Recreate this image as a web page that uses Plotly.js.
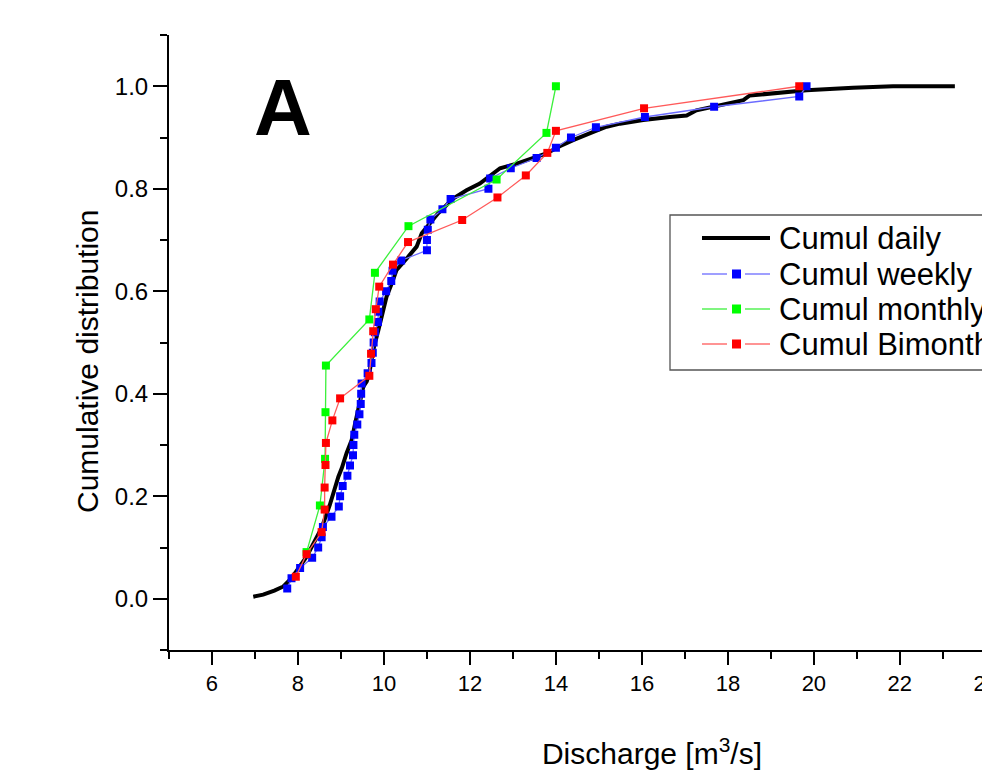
<!DOCTYPE html>
<html>
<head>
<meta charset="utf-8">
<script src="https://cdn.plot.ly/plotly-3.0.1.min.js"></script>
<style>
html, body { margin: 0; padding: 0; overflow: hidden; background: #ffffff; }
#chart { width: 1145px; height: 773px; }
</style>
</head>
<body>
<div id="chart"></div>
<script>
// ---- Data ----
var seriesNames = ["Cumul daily", "Cumul weekly", "Cumul monthly", "Cumul Bimonthly"];

// Daily cumulative distribution (discharge, probability)
var dailyX = [6.96, 7.19, 7.45, 7.66, 7.85, 8.2, 8.55, 8.74, 8.94, 9.02, 9.13, 9.25, 9.33, 9.44, 9.52, 9.6, 9.66, 9.71, 9.77,
  9.87, 9.97, 10.06, 10.18, 10.29, 10.53, 10.76, 10.88, 11.07, 11.26, 11.61, 11.92, 12.23, 12.47, 12.7, 13.09, 13.47,
  13.78, 14.09, 14.4, 14.87, 15.18, 15.49, 16.03, 16.65, 17.04, 17.27, 17.66, 18.36, 18.51, 19.13, 19.83, 20.91, 21.84, 23.28];
var dailyY = [0.004, 0.008, 0.016, 0.024, 0.04, 0.082, 0.138, 0.183, 0.238, 0.255, 0.284, 0.31, 0.342, 0.388, 0.414, 0.424, 0.44, 0.466, 0.492,
  0.524, 0.557, 0.589, 0.615, 0.641, 0.664, 0.687, 0.713, 0.732, 0.752, 0.781, 0.797, 0.81, 0.826, 0.84, 0.849, 0.859,
  0.869, 0.883, 0.895, 0.911, 0.921, 0.927, 0.934, 0.94, 0.943, 0.953, 0.96, 0.973, 0.982, 0.986, 0.992, 0.997, 1.0, 1.0];

// Weekly
var weeklyX = [7.75, 7.85, 8.05, 8.33, 8.47, 8.55, 8.58, 8.78, 8.95, 8.98, 9.04, 9.15, 9.21, 9.28, 9.29, 9.31, 9.38, 9.43, 9.46, 9.47,
  9.48, 9.62, 9.71, 9.74, 9.76, 9.79, 9.86, 9.87, 9.9, 10.05, 10.17, 10.2, 10.4, 11.0, 11.0, 11.02, 11.08, 11.36, 11.55, 12.43,
  12.47, 12.95, 13.55, 14.0, 14.35, 14.93, 16.07, 17.68, 19.66, 19.83];
var weeklyY = [0.02, 0.04, 0.06, 0.08, 0.10, 0.12, 0.14, 0.16, 0.18, 0.20, 0.22, 0.24, 0.26, 0.28, 0.30, 0.32, 0.34, 0.36, 0.38, 0.40,
  0.42, 0.44, 0.46, 0.48, 0.50, 0.52, 0.54, 0.56, 0.58, 0.60, 0.62, 0.64, 0.66, 0.68, 0.70, 0.72, 0.74, 0.76, 0.78, 0.80,
  0.82, 0.84, 0.86, 0.88, 0.90, 0.92, 0.94, 0.96, 0.98, 1.00];

// Monthly
var monthlyX = [8.2, 8.51, 8.63, 8.64, 8.65, 9.66, 9.79, 10.57, 12.62, 13.78, 14.0];
var monthlyY = [0.091, 0.182, 0.273, 0.364, 0.455, 0.545, 0.636, 0.727, 0.818, 0.909, 1.0];

// Bimonthly
var bimonthlyX = [7.95, 8.2, 8.55, 8.62, 8.62, 8.64, 8.65, 8.8, 8.98, 9.66, 9.70, 9.75, 9.81, 9.89, 10.21, 10.56, 11.82, 12.64,
  13.3, 13.8, 14.0, 16.05, 19.66];
var bimonthlyY = [0.043, 0.087, 0.130, 0.174, 0.217, 0.261, 0.304, 0.348, 0.391, 0.435, 0.478, 0.522, 0.565, 0.609, 0.652, 0.696,
  0.739, 0.783, 0.826, 0.870, 0.913, 0.957, 1.0];

var yTickVals = [0, 0.2, 0.4, 0.6, 0.8, 1.0];
var yTickText = ["0.0", "0.2", "0.4", "0.6", "0.8", "1.0"];

// ---- Styles ----
var FONT = "Liberation Sans, Arial, sans-serif";
var markerColors = ["#000000", "#0000ff", "#00ff00", "#ff0000"];
var lineColors = ["#000000", "#6b6bff", "#3cf03c", "#ff5a5a"];

var traces = [
  { x: dailyX, y: dailyY, name: seriesNames[0], type: "scatter", mode: "lines",
    line: { color: lineColors[0], width: 4 } },
  { x: weeklyX, y: weeklyY, name: seriesNames[1], type: "scatter", mode: "lines+markers",
    line: { color: lineColors[1], width: 1.3 },
    marker: { symbol: "square", size: 8, color: markerColors[1], line: { width: 0 } } },
  { x: monthlyX, y: monthlyY, name: seriesNames[2], type: "scatter", mode: "lines+markers",
    line: { color: lineColors[2], width: 1.3 },
    marker: { symbol: "square", size: 8, color: markerColors[2], line: { width: 0 } } },
  { x: bimonthlyX, y: bimonthlyY, name: seriesNames[3], type: "scatter", mode: "lines+markers",
    line: { color: lineColors[3], width: 1.3 },
    marker: { symbol: "square", size: 8, color: markerColors[3], line: { width: 0 } } }
];

// ---- Plot-area geometry (pixels) used to place the boxed legend ----
var W = 1145, H = 773, ML = 169, MR = 10, MT = 35, MB = 123;
var PW = W - ML - MR, PH = H - MT - MB;
function px(x) { return (x - ML) / PW; }
function py(y) { return (H - MB - y) / PH; }

var shapes = [];
var annotations = [];

// legend frame
shapes.push({ type: "rect", xref: "paper", yref: "paper", layer: "above",
  x0: px(670), x1: px(1040), y0: py(370), y1: py(215),
  fillcolor: "#ffffff", line: { color: "#555555", width: 1.3 } });

var rowY = [238, 274, 309, 344];
for (var i = 0; i < seriesNames.length; i++) {
  var yy = py(rowY[i]);
  if (i === 0) {
    shapes.push({ type: "line", xref: "paper", yref: "paper", layer: "above",
      x0: px(702), x1: px(770), y0: yy, y1: yy, line: { color: lineColors[0], width: 4 } });
  } else {
    shapes.push({ type: "line", xref: "paper", yref: "paper", layer: "above",
      x0: px(702), x1: px(727), y0: yy, y1: yy, line: { color: lineColors[i], width: 1.3 } });
    shapes.push({ type: "line", xref: "paper", yref: "paper", layer: "above",
      x0: px(745), x1: px(770), y0: yy, y1: yy, line: { color: lineColors[i], width: 1.3 } });
    shapes.push({ type: "rect", xref: "paper", yref: "paper", layer: "above",
      x0: px(732), x1: px(741), y0: py(rowY[i] + 4.5), y1: py(rowY[i] - 4.5),
      fillcolor: markerColors[i], line: { width: 0 } });
  }
  annotations.push({ text: seriesNames[i], xref: "paper", yref: "paper",
    x: px(777), y: yy, xanchor: "left", yanchor: "middle", showarrow: false,
    font: { size: 31, family: FONT, color: "#000000" } });
}

// panel letter
annotations.push({ text: "<b>A</b>", xref: "paper", yref: "paper", x: px(283), y: py(107),
  xanchor: "center", yanchor: "middle", showarrow: false,
  font: { size: 80, family: FONT, color: "#000000" } });

// y axis title (placed to match the reference's offset)
annotations.push({ text: "Cumulative distribution", xref: "paper", yref: "paper",
  x: px(87), y: py(362), xanchor: "center", yanchor: "middle", textangle: -90, showarrow: false,
  font: { size: 30, family: FONT, color: "#000000" } });

var layout = {
  width: W, height: H,
  margin: { l: ML, r: MR, t: MT, b: MB },
  paper_bgcolor: "#ffffff", plot_bgcolor: "#ffffff",
  font: { family: FONT, color: "#000000" },
  showlegend: false,
  xaxis: {
    range: [5, 27.47], dtick: 2, tick0: 0,
    showline: true, linecolor: "#000000", linewidth: 2,
    ticks: "outside", ticklen: 13, tickwidth: 2, tickcolor: "#000000",
    minor: { dtick: 1, tick0: 0, ticks: "outside", ticklen: 7, tickwidth: 2, tickcolor: "#000000" },
    showgrid: false, zeroline: false,
    tickfont: { size: 22, family: FONT },
    title: { text: "Discharge [m<sup>3</sup>/s]", font: { size: 30, family: FONT }, standoff: 48 }
  },
  yaxis: {
    range: [-0.1, 1.1],
    tickvals: yTickVals, ticktext: yTickText,
    showline: true, linecolor: "#000000", linewidth: 2,
    ticks: "outside", ticklen: 14, tickwidth: 2, tickcolor: "#000000",
    minor: { dtick: 0.1, tick0: 0, ticks: "outside", ticklen: 7, tickwidth: 2, tickcolor: "#000000" },
    showgrid: false, zeroline: false,
    tickfont: { size: 24, family: FONT }
  },
  shapes: shapes,
  annotations: annotations
};

Plotly.newPlot("chart", traces, layout, { displayModeBar: false, staticPlot: true });
</script>
</body>
</html>
